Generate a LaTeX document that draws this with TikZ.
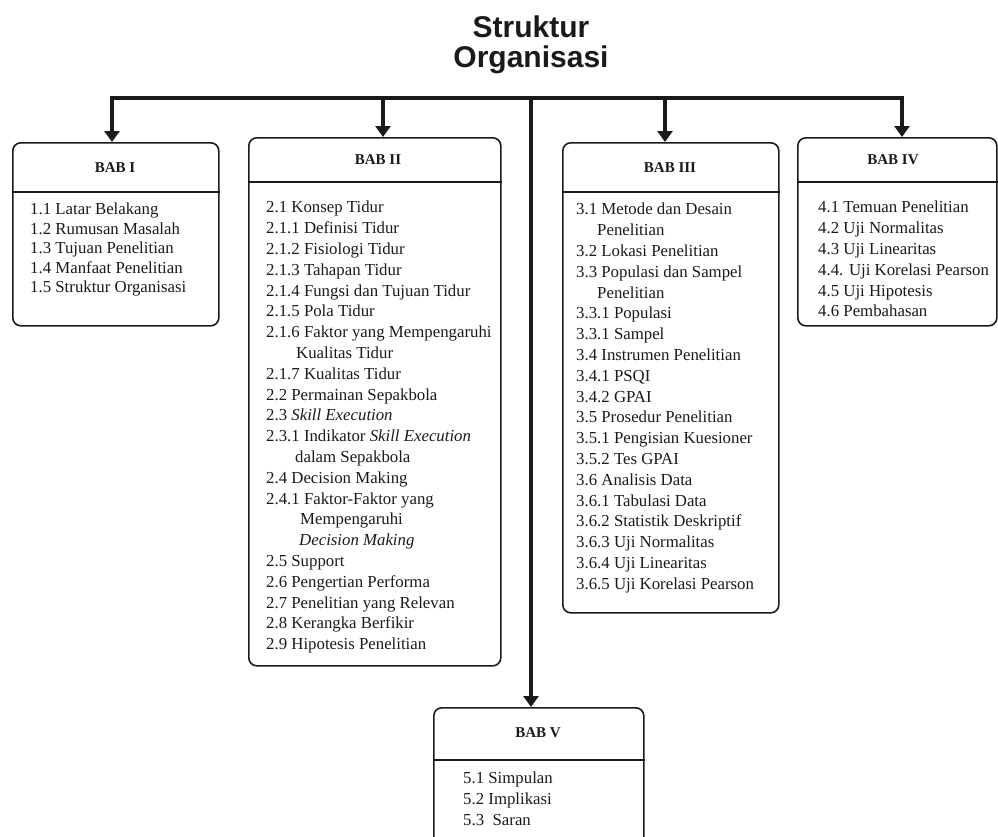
\documentclass[tikz,border=0pt]{standalone}
\usepackage{fontspec}
\setmainfont{Liberation Serif}
\newfontfamily\headfont{Liberation Sans}
\usetikzlibrary{arrows.meta,positioning}
\definecolor{ink}{HTML}{1A1A1A}

\tikzset{
  babbox/.style={draw=ink,line width=1.6pt,rounded corners=8pt,inner sep=0pt,anchor=north west},
  babtitle/.style={font=\fontsize{15}{18}\selectfont\bfseries,text=ink},
  bablist/.style={anchor=north west,align=left,inner sep=0pt,
    font=\fontsize{16.8}{20.8}\selectfont,text=ink},
  divline/.style={draw=ink,line width=1.3pt},
  trunk/.style={draw=ink,line width=3.6pt},
  feed/.style={trunk,-{Triangle[width=15pt,length=11pt]}},
}

\begin{document}
\begin{tikzpicture}[x=1pt,y=-1pt]
  \path[use as bounding box] (0,0) rectangle (998,836);
  \clip (0,0) rectangle (998,836);

  % heading
  \node[font=\headfont\bfseries\fontsize{30}{30}\selectfont,align=center,text=ink]
    (title) at (531,45) {Struktur\\Organisasi};

  % chapter boxes
  \node[babbox,minimum width=206pt,minimum height=183pt] (bab1) at (12,142) {};
  \node[babbox,minimum width=252pt,minimum height=528pt] (bab2) at (248,137) {};
  \node[babbox,minimum width=216pt,minimum height=470pt] (bab3) at (562,142) {};
  \node[babbox,minimum width=199pt,minimum height=188pt] (bab4) at (797,137) {};
  \node[babbox,minimum width=210pt,minimum height=160pt] (bab5) at (433,707) {};

  % header rules
  \foreach \b/\d in {bab1/50, bab2/45, bab3/50, bab4/45, bab5/53}
    \draw[divline] ([yshift=-\d pt]\b.north west) -- ([yshift=-\d pt]\b.north east);

  \node[babtitle] (t1) at (115,168) {BAB I};
  \node[babtitle] (t2) at (378,160) {BAB II};
  \node[babtitle] (t3) at (670,168) {BAB III};
  \node[babtitle] (t4) at (893,160) {BAB IV};
  \node[babtitle] (t5) at (538,733) {BAB V};

  % contents
  \node[bablist,font=\fontsize{16.8}{19.4}\selectfont] (l1) at (30,203) {1.1 Latar Belakang\\
    1.2 Rumusan Masalah\\1.3 Tujuan Penelitian\\1.4 Manfaat Penelitian\\1.5 Struktur Organisasi};
  \node[bablist] (l2) at (266,201) {2.1 Konsep Tidur\\2.1.1 Definisi Tidur\\
    2.1.2 Fisiologi Tidur\\2.1.3 Tahapan Tidur\\2.1.4 Fungsi dan Tujuan Tidur\\
    2.1.5 Pola Tidur\\2.1.6 Faktor yang Mempengaruhi\\\hspace*{30pt}Kualitas Tidur\\
    2.1.7 Kualitas Tidur\\2.2 Permainan Sepakbola\\2.3 \textit{Skill Execution}\\
    2.3.1 Indikator \textit{Skill Execution}\\\hspace*{29pt}dalam Sepakbola\\
    2.4 Decision Making\\2.4.1 Faktor-Faktor yang\\\hspace*{34pt}Mempengaruhi\\
    \hspace*{33pt}\textit{Decision Making}\\2.5 Support\\2.6 Pengertian Performa\\
    2.7 Penelitian yang Relevan\\2.8 Kerangka Berfikir\\2.9 Hipotesis Penelitian};
  \node[bablist] (l3) at (576,203) {3.1 Metode dan Desain\\\hspace*{21pt}Penelitian\\
    3.2 Lokasi Penelitian\\3.3 Populasi dan Sampel\\\hspace*{21pt}Penelitian\\
    3.3.1 Populasi\\3.3.1 Sampel\\3.4 Instrumen Penelitian\\3.4.1 PSQI\\3.4.2 GPAI\\
    3.5 Prosedur Penelitian\\3.5.1 Pengisian Kuesioner\\3.5.2 Tes GPAI\\
    3.6 Analisis Data\\3.6.1 Tabulasi Data\\3.6.2 Statistik Deskriptif\\
    3.6.3 Uji Normalitas\\3.6.4 Uji Linearitas\\3.6.5 Uji Korelasi Pearson};
  \node[bablist] (l4) at (818,201) {4.1 Temuan Penelitian\\4.2 Uji Normalitas\\
    4.3 Uji Linearitas\\4.4. Uji Korelasi Pearson\\4.5 Uji Hipotesis\\4.6 Pembahasan};
  \node[bablist] (l5) at (463,772) {5.1 Simpulan\\5.2 Implikasi\\5.3\ \ Saran};

  % connectors
  \coordinate (hub) at (531,98);
  \coordinate (f1) at (112,98);
  \coordinate (f2) at (383,98);
  \coordinate (f3) at (665,98);
  \coordinate (f4) at (902,98);
  \draw[trunk,line cap=rect] (f1) -- (f4);
  \foreach \f/\b in {f1/bab1, f2/bab2, f3/bab3, f4/bab4}
    \draw[feed] (\f) -- (\f |- \b.north);
  \draw[feed] (hub) -- (hub |- bab5.north);
\end{tikzpicture}
\end{document}
